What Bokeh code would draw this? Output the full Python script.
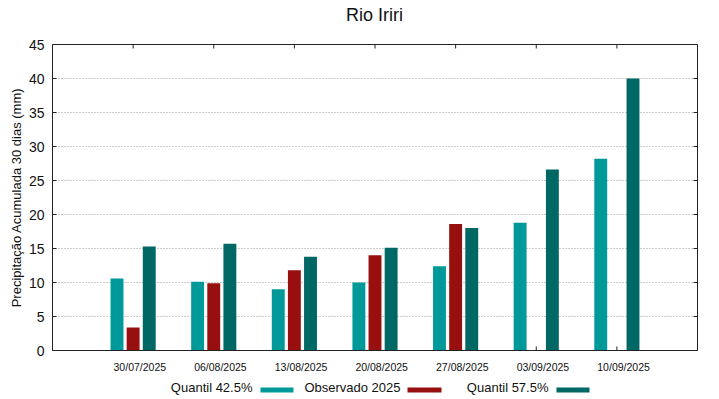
import math
from bokeh.plotting import figure
from bokeh.layouts import column
from bokeh.models import Range1d, FixedTicker, LinearAxis, ColumnDataSource
from bokeh.core.properties import value
from bokeh.transform import dodge
from bokeh.embed import file_html
from bokeh.resources import INLINE

# ---- data ----
dates = ["30/07/2025", "06/08/2025", "13/08/2025", "20/08/2025",
         "27/08/2025", "03/09/2025", "10/09/2025"]
quantil_425 = [10.6, 10.1, 9.0, 10.0, 12.4, 18.8, 28.2]
observado_2025 = [3.4, 9.9, 11.8, 14.0, 18.6, float("nan"), float("nan")]
quantil_575 = [15.3, 15.7, 13.8, 15.1, 18.0, 26.6, 40.0]
y_ticks = [0, 5, 10, 15, 20, 25, 30, 35, 40, 45]
series_names = ["Quantil 42.5%", "Observado 2025", "Quantil 57.5%"]
colors = ["#009999", "#970f0f", "#006864"]
title_text = "Rio Iriri"
y_label = "Precipitação Acumulada 30 dias (mm)"

FONT = "Liberation Sans"
TXT = "#111111"
AX = "#222222"
W = 719
TOP_H, MAIN_H, LEG_H = 28, 348, 23
ML, MR, MT, MB = 52, 22, 16, 26
X0, X1, Y0, Y1 = -1, 7, 0, 45
LAB_SHIFT = 0.083

idx = list(range(len(dates)))
src = ColumnDataSource(dict(idx=idx, q1=quantil_425, obs=observado_2025, q2=quantil_575))


def strip(h):
    # frame aligned with the main plot frame; x range in page pixels
    f = figure(width=W, height=h, output_backend="svg", toolbar_location=None,
               x_range=Range1d(ML, W - MR), y_range=Range1d(h, 0),
               min_border_left=ML, min_border_right=MR, min_border_top=0, min_border_bottom=0,
               x_axis_location=None, y_axis_location=None)
    f.outline_line_color = None
    f.grid.visible = False
    return f


# ---- title strip ----
top = strip(TOP_H)
top.text(x=[374], y=[14], text=[title_text], text_font=value(FONT), text_font_size="18px",
         text_color=TXT, text_align="center", text_baseline="middle")

# ---- main plot ----
p = figure(width=W, height=MAIN_H, output_backend="svg", toolbar_location=None,
           x_range=Range1d(X0, X1), y_range=Range1d(Y0, Y1),
           min_border_left=ML, min_border_right=MR, min_border_top=MT, min_border_bottom=MB,
           x_axis_location=None)
p.extra_x_ranges = {"lab": Range1d(X0 - LAB_SHIFT, X1 - LAB_SHIFT)}
p.outline_line_color = AX
p.outline_line_width = 1

# tick marks (gnuplot-style, inward, mirrored)
tk = dict(line_color=AX, line_width=1, length=4, length_units="screen")
p.ray(x=idx, y=[Y0] * len(idx), angle=math.pi / 2, **tk)
p.ray(x=idx, y=[Y1] * len(idx), angle=-math.pi / 2, **tk)
p.ray(x=[X1] * len(y_ticks), y=y_ticks, angle=math.pi, **tk)
p.ray(x=[X0] * len(y_ticks), y=y_ticks, angle=0, **tk)

bw = 0.16
for field, off, col in [("q1", -0.2, colors[0]), ("obs", 0.0, colors[1]), ("q2", 0.2, colors[2])]:
    p.vbar(x=dodge("idx", off, range=p.x_range), top=field, width=bw, source=src,
           fill_color=col, line_color=None)

# y axis
ya = p.yaxis[0]
ya.ticker = FixedTicker(ticks=y_ticks)
ya.major_label_text_font = FONT
ya.major_label_text_font_size = "14px"
ya.major_label_text_color = TXT
ya.major_tick_in = 0
ya.major_tick_out = 0
ya.minor_tick_in = 0
ya.minor_tick_out = 0
ya.major_label_standoff = 8
ya.axis_line_color = AX
ya.axis_label = y_label
ya.axis_label_text_font = FONT
ya.axis_label_text_font_size = "13px"
ya.axis_label_text_font_style = "normal"
ya.axis_label_text_color = TXT
ya.axis_label_standoff = 2

# bottom axis with date labels (labels slightly right of group centre)
xa = LinearAxis(x_range_name="lab", ticker=FixedTicker(ticks=idx),
                major_label_overrides={i: d for i, d in zip(idx, dates)},
                major_label_text_font=FONT, major_label_text_font_size="10.5px",
                major_label_text_color=TXT, major_label_standoff=10,
                major_tick_in=0, major_tick_out=0, minor_tick_in=0, minor_tick_out=0,
                axis_line_color=AX)
p.add_layout(xa, "below")

p.xgrid.grid_line_color = None
p.ygrid.ticker = FixedTicker(ticks=y_ticks)
p.ygrid.grid_line_color = "#9a9a9a"
p.ygrid.grid_line_dash = "1 2"
p.ygrid.grid_line_width = 1

# ---- legend strip (text before swatch, as in the reference) ----
leg = strip(LEG_H)
leg.text(x=[252, 400, 548], y=[11, 11, 11], text=series_names, text_font=value(FONT),
         text_font_size="13px", text_color=TXT, text_align="right", text_baseline="middle")
leg.quad(left=[260, 407, 556], right=[293, 441, 589], top=[11, 11, 11], bottom=[16, 16, 16],
         fill_color=colors, line_color=None)

layout = column(top, p, leg, spacing=0)
open("out.html", "w").write(file_html(layout, INLINE))
